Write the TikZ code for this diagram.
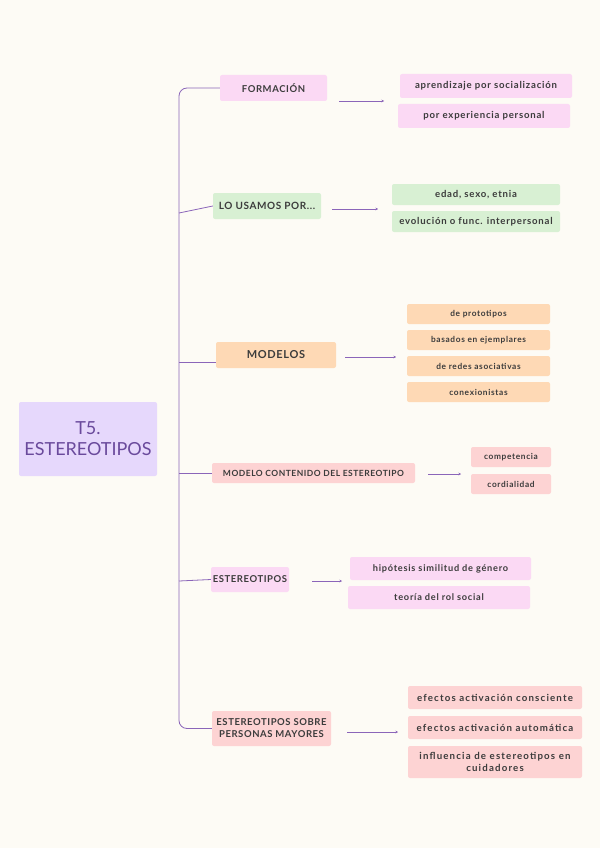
\documentclass[tikz,border=0pt]{standalone}
\usepackage{fontspec}
\setmainfont{Lato}
\usepackage{xcolor}
\usepackage{tikz}
\usetikzlibrary{arrows.meta}
\definecolor{bgcream}{HTML}{FDFBF5}
\definecolor{lilac}{HTML}{E6D8FC}
\definecolor{pinkbox}{HTML}{FBD9F4}
\definecolor{greenbox}{HTML}{D8F0D3}
\definecolor{peachbox}{HTML}{FED9B5}
\definecolor{rosebox}{HTML}{FDD3D3}
\definecolor{linepurple}{HTML}{8B65B9}
\definecolor{rootink}{HTML}{6A4A9C}
\definecolor{ink}{HTML}{3C3C3C}
\newcommand\mapfont[2]{\bfseries\fontsize{#1}{12}\selectfont\addfontfeatures{LetterSpace=#2}}

\begin{document}
\begin{tikzpicture}[x=1pt,y=-1pt,
  box/.style={rounded corners=2pt,inner sep=0pt,align=center,text=ink,font=\mapfont{8.5}{8}},
  head/.style={box,font=\mapfont{9.5}{6}},
  link/.style={linepurple,line width=0.8pt},
  arr/.style={link,-{Stealth[length=2.5pt,width=2.5pt]}}]
  \fill[bgcream] (0,0) rectangle (600,848);
  \node[box,fill=lilac,minimum width=138,minimum height=74,text=rootink,font=\fontsize{18}{21}\selectfont] (root) at (88,439) {T5.\\ESTEREOTIPOS};
  % branches
  \node[head,fill=pinkbox,minimum width=107,minimum height=26] (form) at (273.5,88) {FORMACIÓN};
  \node[head,fill=greenbox,minimum width=108,minimum height=26,font=\mapfont{10}{6}] (usamos) at (267,206) {LO USAMOS POR...};
  \node[head,fill=peachbox,minimum width=120,minimum height=26,font=\mapfont{11}{6}] (modelos) at (276,355) {MODELOS};
  \node[head,fill=rosebox,minimum width=203,minimum height=20,font=\mapfont{8.5}{6}] (contenido) at (313.5,473) {MODELO CONTENIDO DEL ESTEREOTIPO};
  \node[head,fill=pinkbox,minimum width=78,minimum height=25] (estereo) at (250,579.5) {ESTEREOTIPOS};
  \node[head,fill=rosebox,minimum width=119,minimum height=35] (mayores) at (271.5,728.5) {ESTEREOTIPOS SOBRE\\PERSONAS MAYORES};
  % children
  \node[box,fill=pinkbox,minimum width=172,minimum height=24,font=\mapfont{9.6}{8}] (form1) at (486,86) {aprendizaje por socialización};
  \node[box,fill=pinkbox,minimum width=172,minimum height=24,font=\mapfont{9.6}{8}] (form2) at (484,116) {por experiencia personal};
  \node[box,fill=greenbox,minimum width=168,minimum height=21,font=\mapfont{9.6}{8}] (usamos1) at (476,194.5) {edad, sexo, etnia};
  \node[box,fill=greenbox,minimum width=168,minimum height=21,font=\mapfont{9.6}{8}] (usamos2) at (476,221.5) {evolución o func. interpersonal};
  \node[box,fill=peachbox,minimum width=143,minimum height=20,font=\mapfont{8.3}{8}] (mod1) at (478.5,314) {de prototipos};
  \node[box,fill=peachbox,minimum width=143,minimum height=20,font=\mapfont{8.3}{8}] (mod2) at (478.5,340) {basados en ejemplares};
  \node[box,fill=peachbox,minimum width=143,minimum height=20,font=\mapfont{8.3}{8}] (mod3) at (478.5,366) {de redes asociativas};
  \node[box,fill=peachbox,minimum width=143,minimum height=20,font=\mapfont{8.3}{8}] (mod4) at (478.5,392) {conexionistas};
  \node[box,fill=rosebox,minimum width=80,minimum height=20,font=\mapfont{8.3}{8}] (cont1) at (511,457) {competencia};
  \node[box,fill=rosebox,minimum width=80,minimum height=20,font=\mapfont{8.3}{8}] (cont2) at (511,484) {cordialidad};
  \node[box,fill=pinkbox,minimum width=181,minimum height=23,font=\mapfont{9.2}{8}] (est1) at (440.5,568.5) {hipótesis similitud de género};
  \node[box,fill=pinkbox,minimum width=182,minimum height=23,font=\mapfont{9.2}{8}] (est2) at (439,597.5) {teoría del rol social};
  \node[box,fill=rosebox,minimum width=174,minimum height=23,font=\mapfont{9.7}{12}] (may1) at (495,697.5) {efectos activación consciente};
  \node[box,fill=rosebox,minimum width=174,minimum height=23,font=\mapfont{9.7}{12}] (may2) at (495,727.5) {efectos activación automática};
  \node[box,fill=rosebox,minimum width=174,minimum height=32,font=\mapfont{9.7}{12}] (may3) at (495,762) {influencia de estereotipos en\\cuidadores};
  % spine
  \coordinate (spine) at (179,400);
  \draw[link,rounded corners=8pt] (form.west) -| (spine) |- (mayores.west);
  \draw[link] (spine |- 0,213) -- (usamos.west);
  \draw[link] (spine |- 0,362) -- (modelos.west |- 0,362);
  \draw[link] (spine |- contenido.west) -- (contenido.west);
  \draw[link] (spine |- 0,581) -- (estereo.west);
  % arrows
  \foreach \a/\b/\y [count=\i] in {339/384/101,332/378/209,345/396/357,428/461/474,312/342/581,347/398/732}{
    \coordinate (s\i) at (\a,\y);
    \coordinate (t\i) at (\b,\y);
    \draw[arr] (s\i) -- (t\i);
  }
\end{tikzpicture}
\end{document}
